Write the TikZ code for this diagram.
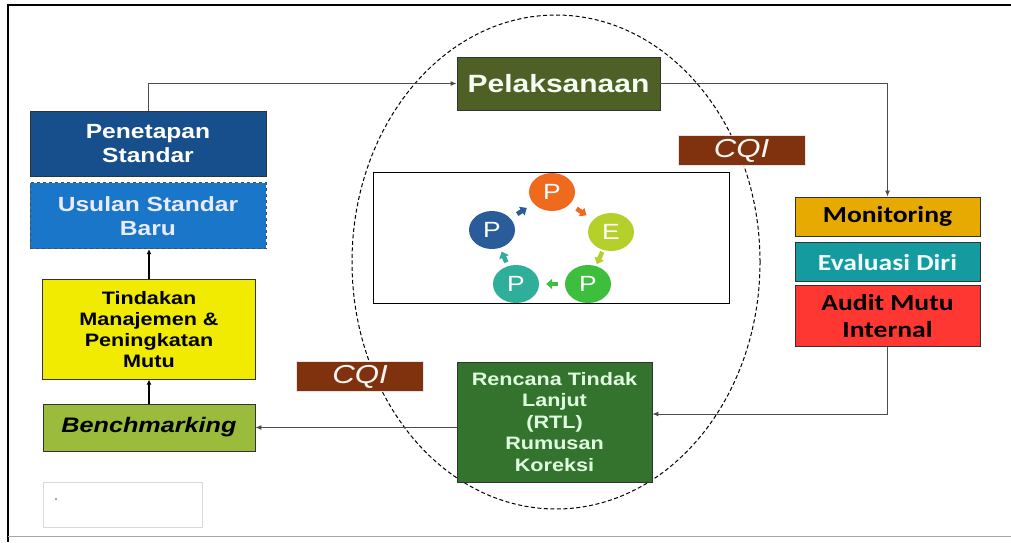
\documentclass[tikz,border=0pt]{standalone}
\usepackage{fontspec}
\setmainfont{Liberation Sans}[FakeStretch=1.2]
\newfontfamily\calib{Carlito}[FakeStretch=1.2]
\usetikzlibrary{shapes, arrows.meta, positioning, calc}
\newcommand{\fsz}[2]{\fontsize{#1}{#2}\selectfont}

\definecolor{penblue}{RGB}{23,78,140}
\definecolor{usublue}{RGB}{25,118,200}
\definecolor{tinyellow}{RGB}{240,235,0}
\definecolor{bengreen}{RGB}{155,187,60}
\definecolor{pelolive}{RGB}{78,96,38}
\definecolor{cqibrown}{RGB}{128,50,15}
\definecolor{rtlgreen}{RGB}{52,115,45}
\definecolor{mongold}{RGB}{230,170,0}
\definecolor{evateal}{RGB}{20,155,160}
\definecolor{audred}{RGB}{255,55,50}
\definecolor{pdorange}{RGB}{240,106,30}
\definecolor{pdlime}{RGB}{181,207,43}
\definecolor{pdgreen}{RGB}{61,190,61}
\definecolor{pdteal}{RGB}{47,174,154}
\definecolor{pdblue}{RGB}{43,92,154}

\tikzset{
  box/.style={draw=black!80, line width=0.8pt, align=center, inner sep=2pt},
  cqibox/.style={draw=gray!20, fill=cqibrown, text=white!95!cqibrown, minimum width=127pt, minimum height=30pt, font=\itshape\fsz{26}{30}},
  pdnode/.style={ellipse, fill=#1, text=white, minimum width=46pt, minimum height=38pt, inner sep=0pt, font=\fsz{22}{24}},
  pdarrow/.style={line width=4.5pt, -{Triangle[length=6pt,width=10pt]}},
  link/.style={draw=black!70, line width=1pt, -{Latex[length=6pt,width=5pt]}},
  uplink/.style={draw=black, line width=1.8pt, -{Latex[length=5pt,width=5pt]}}
}

\begin{document}
\begin{tikzpicture}[x=1pt, y=-1pt, node distance=6pt and 0pt]
	\useasboundingbox (0,0) rectangle (1011,542);
	% frame
	\draw[line width=2pt] (1011,5) -- (8,5) -- (8,542);
	\draw[gray!70, line width=1pt] (8,536) -- (1011,536);

	% CQI cycle
	\node[ellipse, draw, dash pattern=on 4pt off 2.5pt, line width=1pt, minimum width=408pt, minimum height=494pt] (cyc) at (556,262) {};
	\node[draw, line width=0.9pt, fill=white, minimum width=356pt, minimum height=131pt] (pdca) at (551,237.5) {};
	\node[pdnode=pdorange] (po) at (552,192) {P};
	\node[pdnode=pdlime] (pe) at (611,232) {E};
	\node[pdnode=pdgreen] (pg) at (588,284) {P};
	\node[pdnode=pdteal] (pt) at (516,284) {P};
	\node[pdnode=pdblue] (pb) at (492,230) {P};
	\foreach \from/\to/\col/\sh in {po/pe/pdorange/8pt, pe/pg/pdlime/2pt, pg/pt/pdgreen/7pt, pt/pb/pdteal/4pt, pb/po/pdblue/8pt}
		\draw[pdarrow, \col, shorten <=\sh, shorten >=\sh] (\from) -- (\to);

	% left column
	\node[box, fill=penblue, text=white, minimum width=236pt, minimum height=65pt, font=\bfseries\fsz{20.5}{24}] (pen) at (148,143.5) {Penetapan\\Standar};
	\node[box, dashed, draw=black!70, below=of pen, fill=usublue, text=blue!8, minimum width=236pt, minimum height=66pt, font=\bfseries\fsz{20.5}{24}] (usu) {Usulan Standar\\Baru};
	\node[box, fill=bengreen, minimum width=212pt, minimum height=47pt, font=\bfseries\itshape\fsz{21}{25}] (ben) at (149,427.5) {Benchmarking};
	\node[box, above=24pt of ben, fill=tinyellow, minimum width=213pt, minimum height=100pt, font=\bfseries\fsz{18}{21}] (tin) {Tindakan\\Manajemen \&\\Peningkatan\\Mutu};
	\node[draw=gray!30, minimum width=159pt, minimum height=45pt] (blank) at (122.5,504.5) {};
	\fill[black!70] (56,499) circle (0.9pt);

	% middle
	\node[box, fill=pelolive, text=green!5, minimum width=203pt, minimum height=53pt, font=\bfseries\fsz{25}{30}] (pel) at (558.5,83.5) {Pelaksanaan};
	\node[cqibox] (cqia) at (741.5,150.5) {CQI};
	\node[cqibox] (cqib) at (360,376.5) {CQI};
	\node[box, fill=rtlgreen, text=green!12, minimum width=195pt, minimum height=120pt, font=\bfseries\fsz{18}{21.5}] (rtl) at (554.5,422) {Rencana Tindak\\Lanjut\\(RTL)\\Rumusan\\Koreksi};

	% right column
	\node[box, fill=mongold, minimum width=185pt, minimum height=39pt, font=\calib\bfseries\fsz{23}{27}] (mon) at (887.5,216.5) {Monitoring};
	\node[box, below=of mon, fill=evateal, text=cyan!5, minimum width=185pt, minimum height=39pt, font=\calib\bfseries\fsz{23}{27}] (eva) {Evaluasi Diri};
	\node[box, below=3pt of eva, fill=audred, minimum width=185pt, minimum height=61pt, font=\calib\bfseries\fsz{23}{27}] (aud) {Audit Mutu\\Internal};

	% connectors
	\draw[link] (pen.north) |- (pel.west);
	\draw[link] (pel.east) -| (mon.north);
	\draw[link] (aud.south) |- ([yshift=8pt]rtl.east);
	\draw[link] (ben.east -| rtl.west) -- (ben.east);
	\draw[uplink] (ben.north) -- (tin.south);
	\draw[uplink] (tin.north) -- (tin.north |- usu.south);
\end{tikzpicture}
\end{document}
